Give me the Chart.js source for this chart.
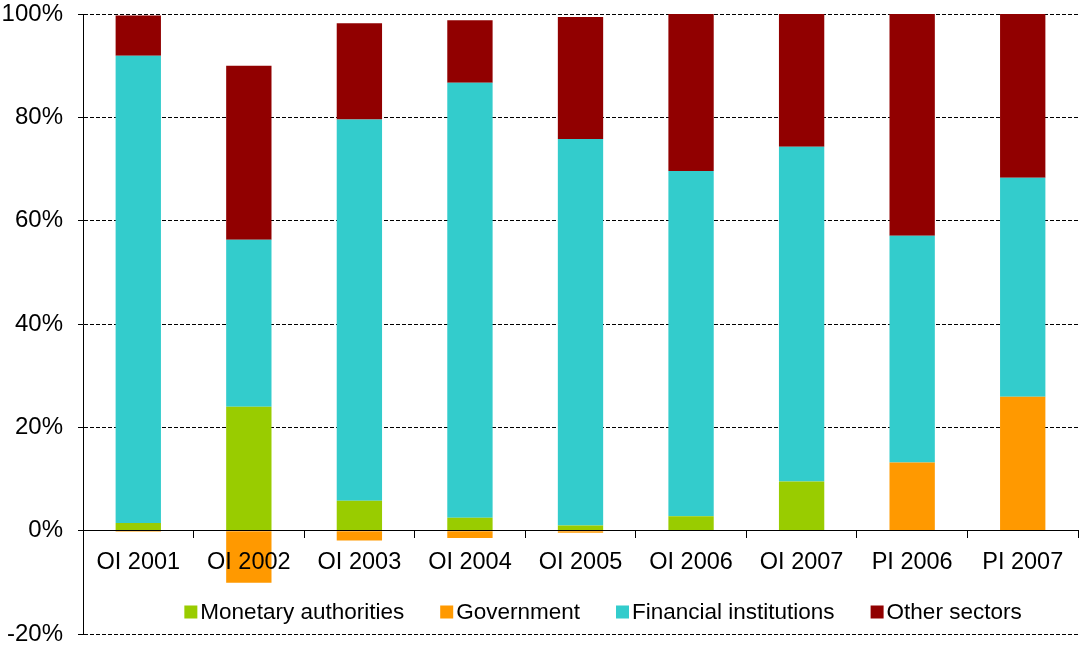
<!DOCTYPE html>
<html>
<head>
<meta charset="utf-8">
<script src="https://cdn.jsdelivr.net/npm/chart.js@4/dist/chart.umd.min.js"></script>
<style>
  html, body { margin: 0; padding: 0; background: #fff; }
  #wrap { width: 1081px; height: 645px; position: relative; }
</style>
</head>
<body>
<div id="wrap"><canvas id="grafico"></canvas></div>
<script>
const categorias = ['OI 2001', 'OI 2002', 'OI 2003', 'OI 2004', 'OI 2005', 'OI 2006', 'OI 2007', 'PI 2006', 'PI 2007'];

// shares in % of total, per sector
const autoridadesMonetarias = [1.5, 24.0, 5.8, 2.5, 1.0, 2.8, 9.5, 0, 0];
const governo = [-0.2, -10.1, -1.9, -1.4, -0.4, 0, 0, 13.2, 25.9];
const instituicoesFinanceiras = [90.4, 32.3, 73.8, 84.2, 74.8, 66.8, 64.8, 43.9, 42.4];
const outrosSetores = [7.8, 33.7, 18.6, 12.1, 23.6, 30.4, 25.7, 42.9, 31.7];

const yMin = -20;
const yMax = 100;
const yPasso = 20;

const fonte = '"Liberation Sans", Arial, sans-serif';

// legend drawn inside the plot, just above the -20% line
const legendaInterna = {
    id: 'legendaInterna',
    afterDraw(chart) {
        const ctx = chart.ctx;
        const caixa = 13;
        const gapTexto = 3;
        const gapItem = 36;
        ctx.save();
        ctx.font = '22.5px ' + fonte;
        ctx.textBaseline = 'middle';
        const itens = chart.data.datasets.map(ds => ({
            texto: ds.label,
            cor: ds.backgroundColor,
            largura: caixa + gapTexto + ctx.measureText(ds.label).width
        }));
        const total = itens.reduce((s, it) => s + it.largura, 0) + gapItem * (itens.length - 1);
        let x = 603 - total / 2;
        const y = 612;
        itens.forEach(it => {
            ctx.fillStyle = it.cor;
            ctx.fillRect(x, y - caixa / 2, caixa, caixa);
            ctx.fillStyle = '#000';
            ctx.fillText(it.texto, x + caixa + gapTexto, y + 1);
            x += it.largura + gapItem;
        });
        ctx.restore();
    }
};

const divGrafico = document.getElementById('grafico').getContext('2d');

const graficoSetores = new Chart(divGrafico, {
    type: 'bar',
    data: {
        labels: categorias,
        datasets: [
            {
                label: 'Monetary authorities',
                data: autoridadesMonetarias,
                backgroundColor: '#99CC00',
            },
            {
                label: 'Government',
                data: governo,
                backgroundColor: '#FF9900',
            },
            {
                label: 'Financial institutions',
                data: instituicoesFinanceiras,
                backgroundColor: '#33CCCC',
            },
            {
                label: 'Other sectors',
                data: outrosSetores,
                backgroundColor: '#910000',
            }
        ]
    },
    options: {
        responsive: true,
        maintainAspectRatio: false,
        animation: false,
        categoryPercentage: 1,
        barPercentage: 0.41,
        layout: {
            padding: { top: 0, right: 3, bottom: 0, left: 0 }
        },
        plugins: {
            legend: { display: false },
            tooltip: { enabled: false }
        },
        scales: {
            x: {
                stacked: true,
                position: { y: 0 },
                grid: {
                    drawOnChartArea: false,
                    drawTicks: true,
                    tickLength: 7,
                    color: '#000',
                    offset: true,
                },
                // axis line and labels drawn over the bars
                border: { color: '#000', width: 1, z: 1 },
                ticks: {
                    z: 1,
                    color: '#000',
                    padding: 11,
                    maxRotation: 0,
                    font: { family: fonte, size: 23.5 }
                }
            },
            y: {
                stacked: true,
                min: yMin,
                max: yMax,
                // fixed axis width and room above/below the plot
                afterFit(scale) {
                    scale.width = 83;
                    scale.paddingTop = 14;
                    scale.paddingBottom = 11;
                },
                grid: {
                    color: '#000',
                    lineWidth: 1,
                    tickLength: 5,
                },
                border: { color: '#000', width: 1, dash: [4, 2] },
                ticks: {
                    stepSize: yPasso,
                    color: '#000',
                    padding: 15,
                    font: { family: fonte, size: 24 },
                    callback: v => v + '%'
                }
            }
        }
    },
    plugins: [legendaInterna]
});
</script>
</body>
</html>
